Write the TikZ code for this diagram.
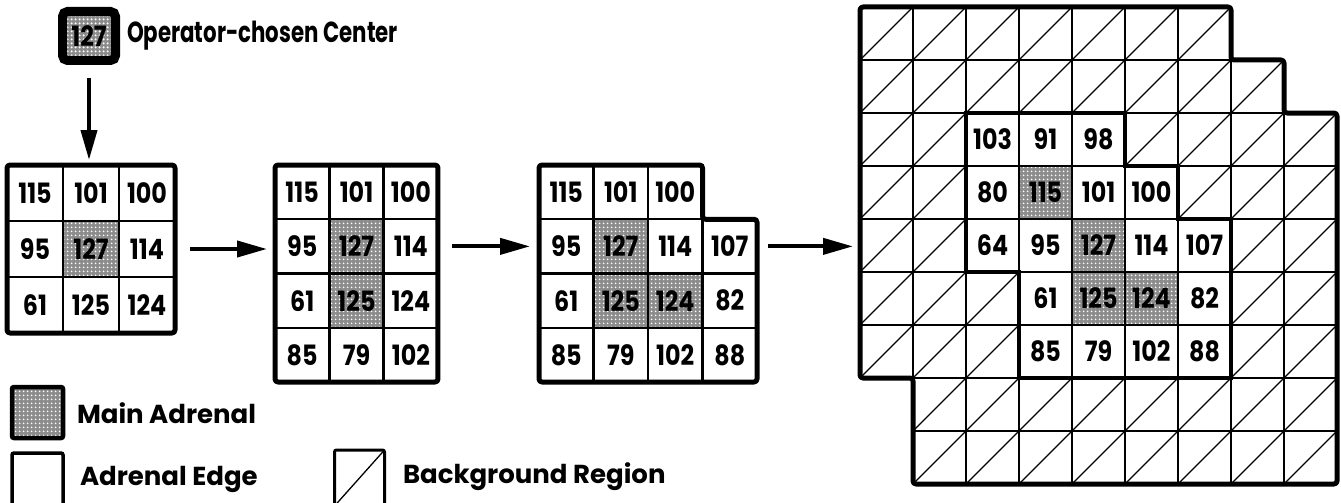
\documentclass[tikz,border=0pt]{standalone}
\usepackage{fontspec}
\setmainfont{Poppins}
\usetikzlibrary{arrows.meta,patterns.meta}
\newcommand\cellfnt{\fontsize{28}{28}\selectfont\bfseries}
\newcommand\lblfnt{\fontsize{26}{26}\selectfont\bfseries}
\newcommand\opfnt{\fontsize{29}{29}\selectfont\bfseries}
\newcommand\cnum[1]{\scalebox{0.85}[1]{#1}}
\newcommand\mkcell[4]{\node[#3, minimum width=\cw*1pt, minimum height=\ch*1pt] (\gn-#2-#1) at ({\gx+(#1+0.5)*\cw},{\gy+(#2+0.5)*\ch}) {\cnum{#4}};}
\tikzset{
  cellbase/.style={draw=black, line width=2.4pt, inner sep=0pt, outer sep=0pt, font=\cellfnt, text=black},
  edgecell/.style={cellbase, fill=white},
  maincell/.style={cellbase, preaction={fill=black!45}, pattern={Dots[distance=4pt,radius=1.2pt]}, pattern color=white},
  bgcell/.style={cellbase, line width=1.8pt, path picture={\draw[line width=1.3pt] (path picture bounding box.south west) -- (path picture bounding box.north east);}},
  border/.style={line width=5pt, rounded corners=3pt, line join=round},
  inborder/.style={line width=4.5pt, line join=miter},
  flow/.style={line width=4pt, -{Triangle[length=30pt,width=16pt]}},
  lbl/.style={font=\lblfnt, inner sep=0pt, outer sep=0pt},
  opbox/.style={draw=black, line width=9pt, rounded corners=5pt, preaction={fill=black!45}, pattern={Dots[distance=4pt,radius=1.3pt]}, pattern color=white, minimum width=53pt, minimum height=49pt, inner sep=0pt, font=\cellfnt}
}
\begin{document}
\begin{tikzpicture}[x=1pt,y=-1pt]
\useasboundingbox (0,0) rectangle (1341,503);
\clip (0,0) rectangle (1341,503);

% operator-chosen center
\node[opbox] (op) at (89,36) {\cnum{127}};
\node[lbl, font=\opfnt, anchor=west] (oplbl) at (127,36) {\scalebox{0.735}[1]{Operator-chosen Center}};

% grid 1
\def\gn{g1}\def\gx{7}\def\gy{165}\def\cw{56}\def\ch{56}
\mkcell{0}{0}{edgecell}{115}\mkcell{1}{0}{edgecell}{101}\mkcell{2}{0}{edgecell}{100}
\mkcell{0}{1}{edgecell}{95}\mkcell{1}{1}{maincell}{127}\mkcell{2}{1}{edgecell}{114}
\mkcell{0}{2}{edgecell}{61}\mkcell{1}{2}{edgecell}{125}\mkcell{2}{2}{edgecell}{124}
\draw[border] (g1-0-0.north west) rectangle (g1-2-2.south east);

% grid 2
\def\gn{g2}\def\gx{275}\def\gy{165}\def\cw{54.33}\def\ch{54.25}
\mkcell{0}{0}{edgecell}{115}\mkcell{1}{0}{edgecell}{101}\mkcell{2}{0}{edgecell}{100}
\mkcell{0}{1}{edgecell}{95}\mkcell{1}{1}{maincell}{127}\mkcell{2}{1}{edgecell}{114}
\mkcell{0}{2}{edgecell}{61}\mkcell{1}{2}{maincell}{125}\mkcell{2}{2}{edgecell}{124}
\mkcell{0}{3}{edgecell}{85}\mkcell{1}{3}{edgecell}{79}\mkcell{2}{3}{edgecell}{102}
\draw[border] (g2-0-0.north west) rectangle (g2-3-2.south east);

% grid 3
\def\gn{g3}\def\gx{539}\def\gy{165}\def\cw{54.5}\def\ch{54.25}
\mkcell{0}{0}{edgecell}{115}\mkcell{1}{0}{edgecell}{101}\mkcell{2}{0}{edgecell}{100}
\mkcell{0}{1}{edgecell}{95}\mkcell{1}{1}{maincell}{127}\mkcell{2}{1}{edgecell}{114}\mkcell{3}{1}{edgecell}{107}
\mkcell{0}{2}{edgecell}{61}\mkcell{1}{2}{maincell}{125}\mkcell{2}{2}{maincell}{124}\mkcell{3}{2}{edgecell}{82}
\mkcell{0}{3}{edgecell}{85}\mkcell{1}{3}{edgecell}{79}\mkcell{2}{3}{edgecell}{102}\mkcell{3}{3}{edgecell}{88}
\draw[border] (g3-0-0.north west) -- (g3-0-2.north east) -- (g3-0-2.south east) -- (g3-1-3.north east)
  -- (g3-3-3.south east) -- (g3-3-0.south west) -- cycle;

% grid 4
\def\gn{g4}\def\gx{860}\def\gy{7}\def\cw{53}\def\ch{53}
\foreach \c in {0,...,6} {\mkcell{\c}{0}{bgcell}{}}
\foreach \c in {0,...,7} {\mkcell{\c}{1}{bgcell}{}}
\foreach \c in {0,1,5,6,7,8} {\mkcell{\c}{2}{bgcell}{}}
\foreach \c in {0,1,6,7,8} {\mkcell{\c}{3}{bgcell}{}}
\foreach \c in {0,1,7,8} {\mkcell{\c}{4}{bgcell}{}}
\foreach \c in {0,1,2,7,8} {\mkcell{\c}{5}{bgcell}{}}
\foreach \c in {0,1,2,7,8} {\mkcell{\c}{6}{bgcell}{}}
\foreach \c in {1,...,8} {\mkcell{\c}{7}{bgcell}{}}
\foreach \c in {1,...,8} {\mkcell{\c}{8}{bgcell}{}}
\mkcell{2}{2}{edgecell}{103}\mkcell{3}{2}{edgecell}{91}\mkcell{4}{2}{edgecell}{98}
\mkcell{2}{3}{edgecell}{80}\mkcell{3}{3}{maincell}{115}\mkcell{4}{3}{edgecell}{101}\mkcell{5}{3}{edgecell}{100}
\mkcell{2}{4}{edgecell}{64}\mkcell{3}{4}{edgecell}{95}\mkcell{4}{4}{maincell}{127}\mkcell{5}{4}{edgecell}{114}\mkcell{6}{4}{edgecell}{107}
\mkcell{3}{5}{edgecell}{61}\mkcell{4}{5}{maincell}{125}\mkcell{5}{5}{maincell}{124}\mkcell{6}{5}{edgecell}{82}
\mkcell{3}{6}{edgecell}{85}\mkcell{4}{6}{edgecell}{79}\mkcell{5}{6}{edgecell}{102}\mkcell{6}{6}{edgecell}{88}
\draw[inborder] (g4-2-2.north west) -- (g4-2-4.north east) -- (g4-2-4.south east) -- (g4-3-5.north east)
  -- (g4-3-5.south east) -- (g4-4-6.north east) -- (g4-6-6.south east) -- (g4-6-3.south west)
  -- (g4-5-3.north west) -- (g4-4-2.south west) -- cycle;
\draw[border] (g4-0-0.north west) -- (g4-0-6.north east) -- (g4-0-6.south east) -- (g4-1-7.north east)
  -- (g4-1-7.south east) -- (g4-2-8.north east) -- (g4-8-8.south east) -- (g4-8-1.south west)
  -- (g4-7-1.north west) -- (g4-6-0.south west) -- cycle;

% arrows
\draw[flow, shorten <=13pt, shorten >=5pt] (op.south) -- (op.south |- g1-0-1.north);
\draw[flow, shorten <=15pt, shorten >=8pt] (g1-1-2.east) -- (g1-1-2.east -| g2-1-0.west);
\draw[flow, shorten <=14pt, shorten >=9pt] (g2-1-2.east) -- (g3-1-0.west);
\draw[flow, shorten <=11pt, shorten >=7pt] (g3-1-3.east) -- (g3-1-3.east -| g4-4-0.west);

% legend
\node[maincell, line width=4.5pt, rounded corners=2pt, minimum width=51pt, minimum height=51pt] (lgmain) at (37.5,412.5) {};
\node[lbl, anchor=west] (lgmainlbl) at (77,413) {Main Adrenal};
\node[draw=black, line width=3.5pt, rounded corners=2pt, minimum width=51pt, minimum height=56pt, inner sep=0pt] (lgedge) at (37.5,481) {};
\node[lbl, anchor=west] (lgedgelbl) at (80,479) {Adrenal Edge};
\node[bgcell, line width=3pt, rounded corners=2pt, minimum width=50pt, minimum height=56pt] (lgbg) at (359.5,478) {};
\node[lbl, anchor=west] (lgbglbl) at (403,477) {Background Region};
\end{tikzpicture}
\end{document}
